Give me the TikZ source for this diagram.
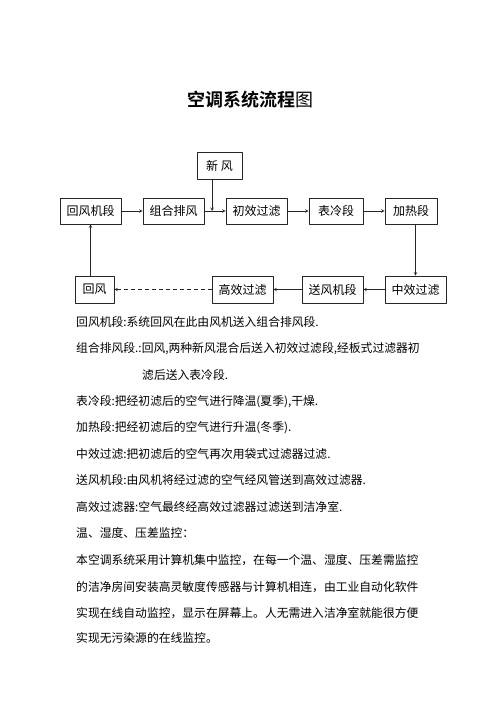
\documentclass[tikz,border=0pt]{standalone}
\usepackage{fontspec}
\setmainfont{Noto Sans CJK SC}[BoldFont={Noto Sans CJK SC Bold}]
\usetikzlibrary{positioning}
\tikzset{
  duan/.style={draw=black!85, line width=0.6pt, minimum height=26pt, inner sep=0pt, font=\fontsize{12}{12}\selectfont},
  desc/.style={anchor=west, inner sep=0pt, font=\fontsize{11.8}{12}\selectfont},
  liu/.style={->, line width=0.6pt, draw=black!85}
}
\begin{document}
\begin{tikzpicture}[x=1pt, y=-1pt, line join=round, >=stealth]
		\useasboundingbox (0,0) rectangle (500,708);
		\node[font=\fontsize{18}{18}\selectfont] (title) at (250,100) {{\bfseries 空调系统流程}图};
		% upper row
		\node[duan, minimum width=45pt, minimum height=27pt] (xinfeng) at (219.5,165.5) {新\ 风};
		\node[duan, minimum width=61pt] (hfjd) at (90.5,211) {回风机段};
		\node[duan, minimum width=61pt] (zhpf) at (173.5,211) {组合排风};
		\node[duan, minimum width=61pt] (cxgl) at (256.5,211) {初效过滤};
		\node[duan, minimum width=54pt] (blduan) at (336,211) {表冷段};
		\node[duan, minimum width=52pt] (jrduan) at (411,211) {加热段};
		% lower row
		\node[duan, minimum width=39pt, minimum height=27pt] (huifeng) at (94.5,289.5) {回风};
		\node[duan, minimum width=61pt, minimum height=27pt] (gxgl) at (242.5,289.5) {高效过滤};
		\node[duan, minimum width=61pt, minimum height=27pt] (sfjd) at (332.5,289.5) {送风机段};
		\node[duan, minimum width=61pt, minimum height=27pt] (zxgl) at (415.5,289.5) {中效过滤};
		\coordinate (hun) at (212,211);
		\draw[liu] (hfjd) -- (zhpf);
		\draw[liu] (zhpf) -- (cxgl);
		\draw[liu] (xinfeng.south -| hun) -- (hun);
		\draw[liu] (cxgl) -- (blduan);
		\draw[liu] (blduan) -- (jrduan);
		\draw[liu] (jrduan.south -| zxgl.north) -- (zxgl.north);
		\draw[liu] (zxgl) -- (sfjd);
		\draw[liu] (sfjd) -- (gxgl);
		\draw[liu, dash pattern=on 4pt off 3pt] (gxgl) -- (huifeng);
		\draw[liu] (huifeng.north -| hfjd.south) -- (hfjd.south);
		% notes
		\node[desc] (s1) at (76,322) {回风机段:系统回风在此由风机送入组合排风段.};
		\node[desc] (s2) at (76,349) {组合排风段.:回风,两种新风混合后送入初效过滤段,经板式过滤器初};
		\node[desc] (s3) at (142,375) {滤后送入表冷段.};
		\node[desc] (s4) at (76,402) {表冷段:把经初滤后的空气进行降温(夏季),干燥.};
		\node[desc] (s5) at (76,428) {加热段:把经初滤后的空气进行升温(冬季).};
		\node[desc] (s6) at (76,454) {中效过滤:把初滤后的空气再次用袋式过滤器过滤.};
		\node[desc] (s7) at (76,480) {送风机段:由风机将经过滤的空气经风管送到高效过滤器.};
		\node[desc] (s8) at (76,507) {高效过滤器:空气最终经高效过滤器过滤送到洁净室.};
		\node[desc] (s9) at (76,533) {温、湿度、压差监控：};
		\node[desc] (s10) at (76,560) {本空调系统采用计算机集中监控，在每一个温、湿度、压差需监控};
		\node[desc] (s11) at (76,587) {的洁净房间安装高灵敏度传感器与计算机相连，由工业自动化软件};
		\node[desc] (s12) at (76,613) {实现在线自动监控，显示在屏幕上。人无需进入洁净室就能很方便};
		\node[desc] (s13) at (76,638) {实现无污染源的在线监控。};
	\end{tikzpicture}
\end{document}
